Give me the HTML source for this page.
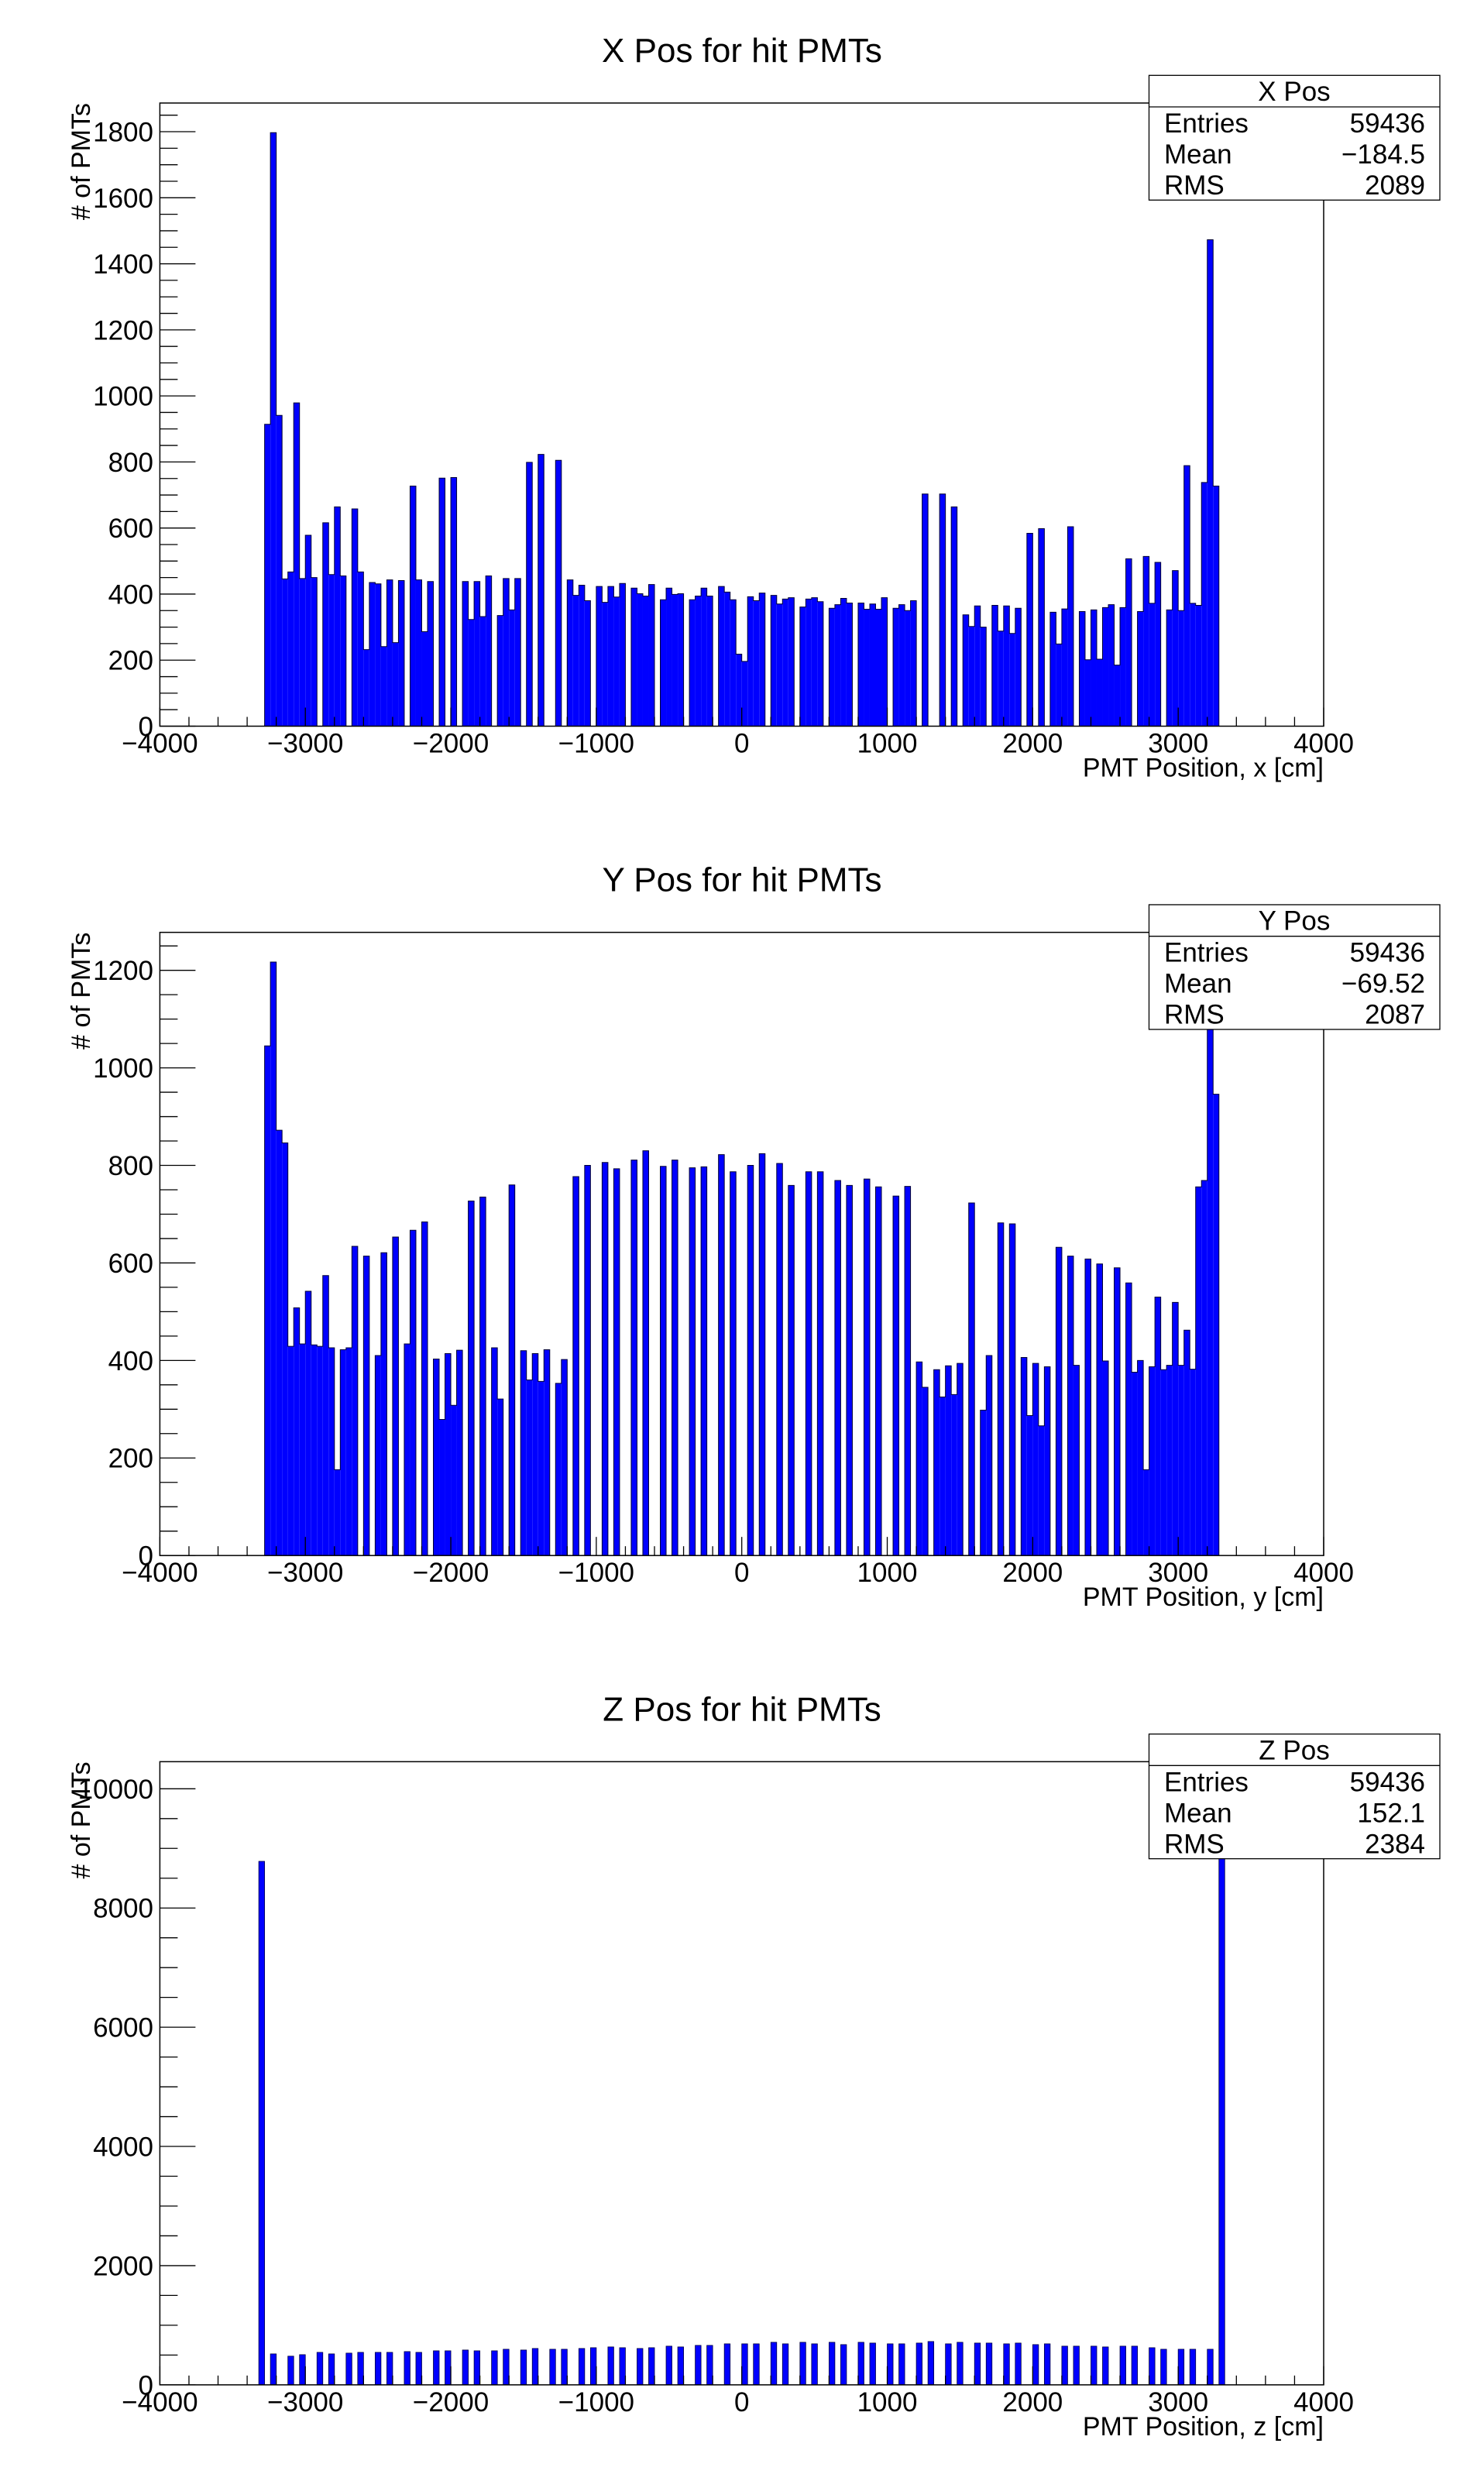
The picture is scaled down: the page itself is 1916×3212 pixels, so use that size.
<!DOCTYPE html>
<html><head><meta charset="utf-8"><title>PMT hit positions</title>
<style>
html,body{margin:0;padding:0;background:#fff;}
svg{display:block;font-family:"Liberation Sans",Arial,sans-serif;}
</style></head>
<body>
<svg id="canvas" xmlns="http://www.w3.org/2000/svg" width="1916" height="3212" viewBox="0 0 1916 3212">
<rect x="0" y="0" width="1916" height="3212" fill="#fff"/>
</svg>
<script>
// ---------- data ----------
const xStart = -3280;
const binWidth = 40;
const xCounts = [914,1797,941,446,467,979,447,578,450,0,
616,459,664,455,0,658,467,232,435,431,
241,443,253,441,0,727,443,286,438,0,
751,0,753,0,438,323,438,332,455,0,
335,447,352,447,0,799,0,823,0,0,
805,0,443,396,427,380,0,423,375,423,
391,432,0,418,401,394,429,0,383,418,
399,401,0,383,394,418,394,0,423,406,
383,218,196,392,380,403,0,396,370,385,
389,0,361,385,389,377,0,357,368,387,
373,0,373,354,370,354,389,0,357,368,
350,380,0,703,0,0,703,0,664,0,
337,302,364,300,0,366,288,364,281,357,
0,584,0,598,0,345,249,355,604,0,
347,201,352,203,359,368,185,359,507,0,
347,514,372,496,0,352,471,350,789,372,
366,738,1473,727];
const yStart = -3280;
const yCounts = [1045,1217,872,846,429,508,434,542,432,429,
574,426,176,422,426,634,0,614,0,410,
621,0,653,0,434,667,0,684,0,403,
279,414,308,421,0,727,0,735,0,426,
321,0,760,0,420,360,414,357,422,0,
353,402,0,777,0,800,0,0,806,0,
793,0,0,811,0,830,0,0,798,0,
811,0,0,795,0,797,0,0,822,0,
787,0,0,800,0,824,0,0,804,0,
759,0,0,787,0,787,0,0,769,0,
759,0,0,772,0,756,0,0,737,0,
757,0,397,345,0,381,325,389,330,394,
0,723,0,298,410,0,682,0,680,0,
406,287,394,266,387,0,632,0,614,390,
0,608,0,598,399,0,590,0,559,376,
400,176,387,530,381,390,519,390,462,382,
756,769,1200,946];
const zBinLow = [-3320,-3240,-3120,-3040,-2920,-2840,-2720,-2640,-2520,-2440,-2320,-2240,-2120,-2040,-1920,-1840,-1720,-1640,-1520,-1440,-1320,-1240,-1120,-1040,-920,-840,-720,-640,-520,-440,-320,-240,-120,0,80,200,280,400,480,600,680,800,880,1000,1080,1200,1280,1400,1480,1600,1680,1800,1880,2000,2080,2200,2280,2400,2480,2600,2680,2800,2880,3000,3080,3200,3280];
const zCounts = [8783,519,481,506,545,519,532,545,545,545,558,545,571,571,584,571,571,597,584,610,597,597,610,623,636,623,610,623,649,636,662,662,688,688,688,714,688,714,688,714,675,714,701,688,688,701,727,688,714,701,701,688,701,675,688,649,649,649,636,649,649,623,597,597,597,597,9957];
const xAxisTicks = [-4000,-3000,-2000,-1000,0,1000,2000,3000,4000];
const xAxisLabels = ["\u22124000","\u22123000","\u22122000","\u22121000","0","1000","2000","3000","4000"];
const yTicksX = [0,200,400,600,800,1000,1200,1400,1600,1800];
const yTicksY = [0,200,400,600,800,1000,1200];
const yTicksZ = [0,2000,4000,6000,8000,10000];
const statsX = ["X Pos","59436","\u2212184.5","2089"];
const statsY = ["Y Pos","59436","\u221269.52","2087"];
const statsZ = ["Z Pos","59436","152.1","2384"];

// ---------- layout ----------
const NS = "http://www.w3.org/2000/svg";
const svg = document.getElementById("canvas");
const PAD_H = 3212/3;
const FL = 206.4, FR = 1709, FT = 133, FB = 937.5;
const XMIN = -4000, XMAX = 4000;

function mk(tag, attrs, parent){
  const el = document.createElementNS(NS, tag);
  for (const k in attrs) el.setAttribute(k, attrs[k]);
  (parent || svg).appendChild(el);
  return el;
}
function sx(v){ return FL + (v - XMIN)/(XMAX - XMIN)*(FR - FL); }

function drawPanel(k, title, xTitle, cfg){
  const g = mk("g", {transform: "translate(0," + (k*PAD_H).toFixed(2) + ")"});
  
  
  const ymax = 1.05*Math.max.apply(null, cfg.counts);
  const sy = c => FB - c/ymax*(FB - FT);

  // bars
  const bars = mk("g", {}, g);
  
  
  for (let i = 0; i < cfg.counts.length; i++){
    const c = cfg.counts[i];
    if (c <= 0) continue;
    const lo = cfg.lows ? cfg.lows[i] : cfg.start + binWidth*i;
    const x0 = sx(lo), x1 = sx(lo + binWidth);
    const r = mk("rect", {x: x0.toFixed(2), y: sy(c).toFixed(2), width: (x1-x0).toFixed(2), height: (FB - sy(c)).toFixed(2), fill: "#0000ff"}, bars);
    if (cfg.lows) { r.setAttribute("stroke", "#000040"); r.setAttribute("stroke-width", "0.8"); }
    
    
  }
  if (!cfg.lows){
    let d = "M" + sx(cfg.start).toFixed(2) + "," + FB;
    for (let i = 0; i < cfg.counts.length; i++){
      const lo = cfg.start + binWidth*i;
      const y = sy(cfg.counts[i]).toFixed(2);
      d += " L" + sx(lo).toFixed(2) + "," + y + " L" + sx(lo+binWidth).toFixed(2) + "," + y;
    }
    d += " L" + sx(cfg.start + binWidth*cfg.counts.length).toFixed(2) + "," + FB;
    const p = mk("path", {d: d, fill: "none", stroke: "#000033", "stroke-width": "1"}, g);
    
    
  }

  // frame
  const fr = mk("rect", {x: FL, y: FT, width: FR-FL, height: FB-FT, fill: "none", stroke: "#000", "stroke-width": "1.5"}, g);
  
  

  // x ticks
  const xt = mk("g", {stroke: "#000", "stroke-width": "1.3"}, g);
  
  
  for (let v = XMIN; v <= XMAX; v += 200){
    const len = (v % 1000 === 0) ? 24 : 12;
    mk("line", {x1: sx(v), x2: sx(v), y1: FB, y2: FB - len}, xt);
  }
  for (let i = 0; i < xAxisTicks.length; i++){
    const t = mk("text", {x: sx(xAxisTicks[i]).toFixed(2), y: FB + 34, "font-size": "35", "text-anchor": "middle", fill: "#000"}, g);
    t.textContent = xAxisLabels[i];
    
    
  }
  // y ticks
  const yt = mk("g", {stroke: "#000", "stroke-width": "1.3"}, g);
  
  
  for (let v = 0; v <= ymax; v += cfg.minor){
    const major = (Math.abs(v % cfg.major) < 1e-6);
    mk("line", {x1: FL, x2: FL + (major ? 46 : 23), y1: sy(v).toFixed(2), y2: sy(v).toFixed(2)}, yt);
  }
  for (let i = 0; i < cfg.yTicks.length; i++){
    const v = cfg.yTicks[i];
    const t = mk("text", {x: 198, y: (sy(v) + 12.5).toFixed(2), "font-size": "35", "text-anchor": "end", fill: "#000"}, g);
    t.textContent = String(v);
    
    
  }
  // titles
  const tt = mk("text", {x: 958, y: 80, "font-size": "44", "text-anchor": "middle", fill: "#000"}, g);
  tt.textContent = title;
  
  
  const xa = mk("text", {x: FR, y: FB + 65, "font-size": "34", "text-anchor": "end", fill: "#000"}, g);
  xa.textContent = xTitle;
  
  
  const ya = mk("text", {transform: "translate(116," + FT + ") rotate(-90)", "font-size": "34", "text-anchor": "end", fill: "#000"}, g);
  ya.textContent = "# of PMTs";
  
  

  // stats box
  const sb = mk("g", {}, g);
  
  
  mk("rect", {x: 1483.5, y: 97.3, width: 375.5, height: 161, fill: "#fff", stroke: "#000", "stroke-width": "1.3"}, sb);
  mk("line", {x1: 1483.5, x2: 1859, y1: 138, y2: 138, stroke: "#000", "stroke-width": "1.3"}, sb);
  const st = cfg.stats;
  const h = mk("text", {x: 1671, y: 130, "font-size": "35", "text-anchor": "middle", fill: "#000"}, sb);
  h.textContent = st[0];
  
  
  const names = ["Entries","Mean","RMS"];
  const base = [171, 211, 251];
  for (let i = 0; i < 3; i++){
    const a = mk("text", {x: 1503, y: base[i], "font-size": "35", fill: "#000"}, sb);
    a.textContent = names[i];
    
    
    const b = mk("text", {x: 1840, y: base[i], "font-size": "35", "text-anchor": "end", fill: "#000"}, sb);
    b.textContent = st[i+1];
    
    
  }
}

drawPanel(0, "X Pos for hit PMTs", "PMT Position, x [cm]", {name: "x-pos", counts: xCounts, start: xStart, yTicks: yTicksX, major: 200, minor: 50, stats: statsX});
drawPanel(1, "Y Pos for hit PMTs", "PMT Position, y [cm]", {name: "y-pos", counts: yCounts, start: yStart, yTicks: yTicksY, major: 200, minor: 50, stats: statsY});
drawPanel(2, "Z Pos for hit PMTs", "PMT Position, z [cm]", {name: "z-pos", counts: zCounts, lows: zBinLow, yTicks: yTicksZ, major: 2000, minor: 500, stats: statsZ});
</script>
</body></html>
